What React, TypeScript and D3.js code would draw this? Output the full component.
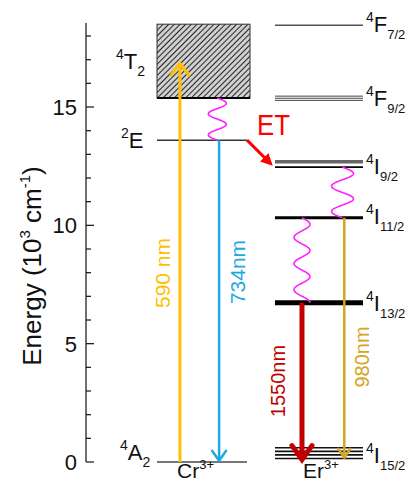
import React from "react";
import * as d3 from "d3";

// Energy levels (10^3 cm^-1)
const ions = ["Cr3+", "Er3+"];
const crStates = ["4A2", "2E"];
const crEnergy = [0, 13.6];
const t2Band = [15.38, 18.5];

const erStates = ["4I15/2", "4I13/2", "4I11/2", "4I9/2", "4F9/2", "4F7/2"];
const erSublevels = [
  [0.15, 0.3, 0.45, 0.6],
  [6.73],
  [10.32],
  [12.46, 12.69],
  [15.28, 15.37, 15.46],
  [18.46],
];

// Radiative transitions
const arrowLabels = ["590 nm", "734nm", "1550nm", "980nm"];
const arrowFrom = [0, 13.6, 6.73, 10.32];
const arrowTo = [16.85, 0.05, 0.1, 0.18];

// Non-radiative relaxations
const relaxFrom = [15.38, 12.46, 10.32];
const relaxTo = [13.6, 10.32, 6.73];

const majorTicks = [0, 5, 10, 15];
const minorTicks = d3.range(0, 19, 1);

const W = 412;
const H = 483;
const FONT = "Arial, 'Liberation Sans', Helvetica, sans-serif";

const y = d3.scaleLinear().domain([0, 18.55]).range([462, 23]);
const x = d3.scaleBand<string>().domain(ions).range([157, 365]).paddingInner(0.237);
const bw = x.bandwidth();
const colX = (ion: string, f: number) => (x(ion) as number) + f * bw;

// styling per transition
const arrowStyle = [
  { ion: "Cr3+", f: 0.255, color: "#FFC000", width: 3, head: 9, headLen: 12, lx: -18, lc: 273, fs: 21 },
  { ion: "Cr3+", f: 0.69, color: "#1DA9E1", width: 2.5, head: 7, headLen: 10, lx: 18, lc: 272, fs: 21 },
  { ion: "Er3+", f: 0.3, color: "#C00000", width: 5, head: 10, headLen: 14, lx: -24, lc: 381, fs: 20 },
  { ion: "Er3+", f: 0.77, color: "#D6A323", width: 2.5, head: 6, headLen: 9, lx: 18, lc: 357, fs: 20 },
];
const relaxStyle = [
  { ion: "Cr3+", f: 0.67, amp: 9, periods: 2 },
  { ion: "Er3+", f: 0.75, amp: 11, periods: 2 },
  { ion: "Er3+", f: 0.3, amp: 8, periods: 3.25 },
];
const erLineStyle = [
  [{ w: 1.6, c: "#111" }, { w: 1.6, c: "#111" }, { w: 1.6, c: "#111" }, { w: 1.6, c: "#111" }],
  [{ w: 5, c: "#000" }],
  [{ w: 3, c: "#000" }],
  [{ w: 1.8, c: "#000" }, { w: 3.5, c: "#666" }],
  [{ w: 1, c: "#444" }, { w: 1, c: "#444" }, { w: 1, c: "#444" }],
  [{ w: 1.5, c: "#555" }],
];
const ionLabelOffset = [20, 28];

function wavyPath(cx: number, y1: number, y2: number, amp: number, periods: number) {
  const pts: [number, number][] = d3.range(0, 1.0001, 0.01).map((t) => [
    cx + amp * Math.sin(2 * Math.PI * periods * t),
    y1 + (y2 - y1) * t,
  ]);
  return d3.line()(pts) as string;
}

function splitState(s: string) {
  return { sup: s[0], main: s[1], sub: s.slice(2) };
}

function StateLabel({ state, x0, yc, mainSize = 22, subSize = 14, supSize = 14 }: any) {
  const { sup, main, sub } = splitState(state);
  const base = yc + 8;
  return (
    <text x={x0} y={base} fontFamily={FONT} fill="#111">
      <tspan fontSize={supSize} dy={-10}>{sup}</tspan>
      <tspan fontSize={mainSize} dy={10}>{main}</tspan>
      <tspan fontSize={subSize} dy={7}>{sub}</tspan>
    </text>
  );
}

export default function App() {
  const crX0 = x("Cr3+") as number;
  const erX0 = x("Er3+") as number;
  const axisX = 86;

  return (
    <svg width={W} height={H} style={{ position: "absolute", left: 0, top: 0, background: "#fff" }}>
      <defs>
        <pattern id="hatch" width={4} height={4} patternUnits="userSpaceOnUse" patternTransform="rotate(45)">
          <rect width={4} height={4} fill="#d0d0d0" />
          <line x1={0} y1={0} x2={0} y2={4} stroke="#1a1a1a" strokeWidth={1.9} />
        </pattern>
        <marker id="etHead" viewBox="0 0 10 10" refX={8} refY={5} markerWidth={4} markerHeight={4} orient="auto">
          <path d="M0,0 L10,5 L0,10 Z" fill="#FF0000" />
        </marker>
      </defs>

      {/* energy axis */}
      <line x1={axisX} x2={axisX} y1={y(0)} y2={y(18.55)} stroke="#222" strokeWidth={1.3} />
      {minorTicks.map((t) => (
        <line key={"m" + t} x1={axisX} x2={axisX + (majorTicks.includes(t) ? 8 : 5)} y1={y(t)} y2={y(t)} stroke="#222" strokeWidth={1.3} />
      ))}
      {majorTicks.map((t) => (
        <text key={"l" + t} x={77} y={y(t) + 8} textAnchor="end" fontSize={22} fontFamily={FONT} fill="#111">
          {t}
        </text>
      ))}
      <text transform={`translate(41, 266) rotate(-90)`} textAnchor="middle" fontSize={26} fontFamily={FONT} fill="#111">
        Energy (10<tspan fontSize={15} dy={-11}>3</tspan>
        <tspan dy={11}> cm</tspan>
        <tspan fontSize={15} dy={-11}>-1</tspan>
        <tspan dy={11}>)</tspan>
      </text>

      {/* Cr3+ levels */}
      <rect x={crX0} y={y(t2Band[1])} width={bw + 3} height={y(t2Band[0]) - y(t2Band[1])} fill="url(#hatch)" stroke="#333" strokeWidth={1} />
      <line x1={crX0} x2={crX0 + bw + 3} y1={y(t2Band[0])} y2={y(t2Band[0])} stroke="#000" strokeWidth={2.2} />
      {crEnergy.map((e, i) => (
        <line key={crStates[i]} x1={crX0} x2={crX0 + bw} y1={y(e)} y2={y(e)} stroke={i === 0 ? "#777" : "#333"} strokeWidth={i === 0 ? 2 : 1.5} />
      ))}
      <StateLabel state="4T2" x0={116} yc={61} />
      <StateLabel state={crStates[1]} x0={121} yc={y(crEnergy[1])} />
      <StateLabel state={crStates[0]} x0={120} yc={y(crEnergy[0]) - 10} />

      {/* Er3+ levels */}
      {erSublevels.map((lv, i) =>
        lv.map((e, j) => (
          <line key={erStates[i] + j} x1={erX0} x2={erX0 + bw - 2} y1={y(e)} y2={y(e)} stroke={erLineStyle[i][j].c} strokeWidth={erLineStyle[i][j].w} />
        ))
      )}
      {erSublevels.map((lv, i) => {
        const mid = y(d3.mean(lv) as number);
        const off = [2, 0, -2, 2, 0, -1][i];
        return <StateLabel key={"lab" + i} state={erStates[i]} x0={366} yc={mid + off} subSize={13} />;
      })}

      {/* non-radiative relaxation */}
      {relaxFrom.map((e, i) => {
        const s = relaxStyle[i];
        return (
          <path key={"w" + i} d={wavyPath(colX(s.ion, s.f), y(e), y(relaxTo[i]), s.amp, s.periods)} fill="none" stroke="#FF22FF" strokeWidth={1.6} />
        );
      })}

      {/* radiative transitions */}
      {arrowFrom.map((e, i) => {
        const s = arrowStyle[i];
        const ax = colX(s.ion, s.f);
        const y1 = y(e);
        const y2 = y(arrowTo[i]);
        const dir = y2 < y1 ? 1 : -1;
        return (
          <g key={"a" + i}>
            <line x1={ax} x2={ax} y1={y1} y2={y2 + dir * 1} stroke={s.color} strokeWidth={s.width} />
            <polyline
              points={`${ax - s.head},${y2 + dir * s.headLen} ${ax},${y2} ${ax + s.head},${y2 + dir * s.headLen}`}
              fill="none"
              stroke={s.color}
              strokeWidth={s.width}
              strokeLinecap="round"
              strokeLinejoin="miter"
            />
            <text
              transform={`translate(${ax + s.lx + s.fs * 0.36}, ${s.lc}) rotate(-90)`}
              textAnchor="middle"
              fontSize={s.fs}
              fontFamily={FONT}
              fill={s.color}
            >
              {arrowLabels[i]}
            </text>
          </g>
        );
      })}

      {/* energy transfer */}
      <line x1={crX0 + bw} y1={y(crEnergy[1])} x2={erX0 - 4} y2={y(12.55) - 1} stroke="#FF0000" strokeWidth={3} markerEnd="url(#etHead)" />
      <text x={257} y={135} fontSize={30} fontFamily={FONT} fill="#FF0000" textLength={33} lengthAdjust="spacingAndGlyphs">ET</text>

      {/* ion labels */}
      {ions.map((ion, i) => (
        <text key={ion} x={(x(ion) as number) + ionLabelOffset[i]} y={478} fontSize={21} fontFamily={FONT} fill="#111">
          {ion.slice(0, 2)}
          <tspan fontSize={13} dy={-9}>{ion.slice(2)}</tspan>
        </text>
      ))}
    </svg>
  );
}
